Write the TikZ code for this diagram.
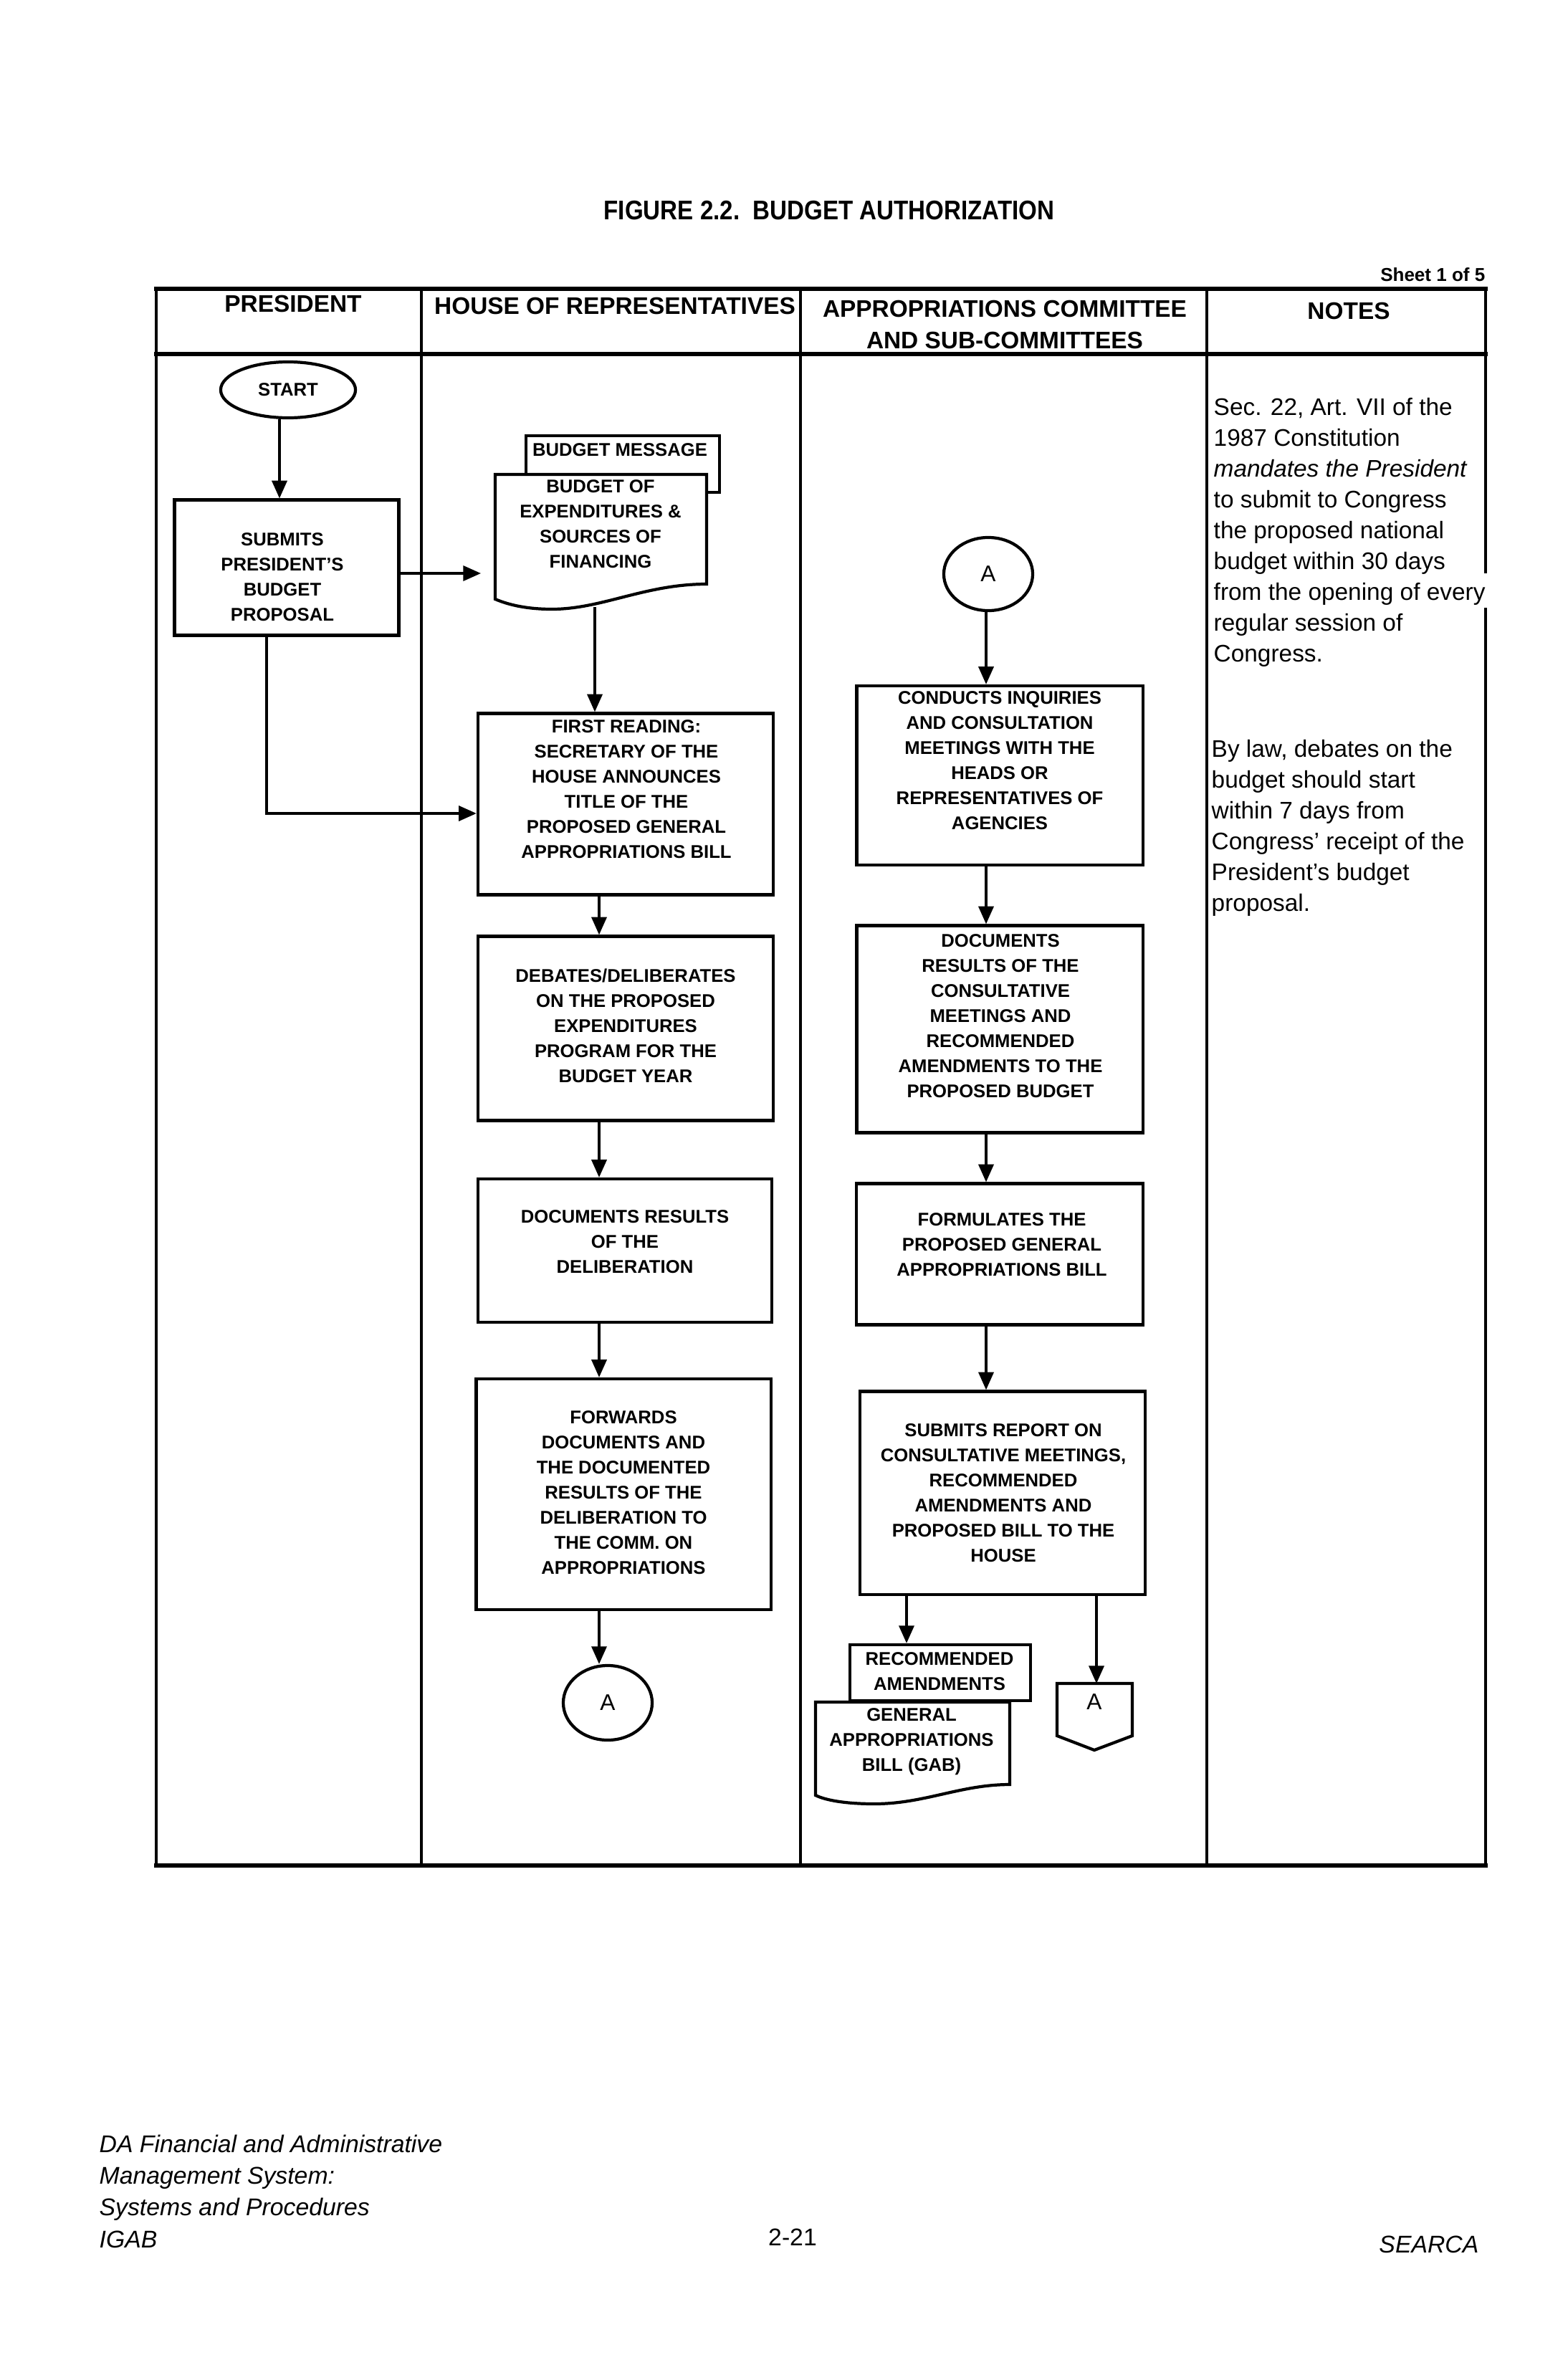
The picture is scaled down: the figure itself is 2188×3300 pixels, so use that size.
\documentclass[tikz,border=0pt]{standalone}
\usepackage{fontspec}
\setmainfont{Liberation Sans}
\newfontfamily\narrowfont[FakeStretch=0.88]{Liberation Sans}
\usetikzlibrary{arrows.meta,shapes.geometric}
\newcommand\bxf{\fontsize{7.3}{9.96}\selectfont\bfseries}
\newcommand\hdf{\fontsize{9.5}{12.5}\selectfont\bfseries}
\newcommand\ntf{\fontsize{9.5}{12.2}\selectfont}
\newcommand\ftf{\fontsize{9.6}{12.6}\selectfont\itshape}
\begin{document}
\begin{tikzpicture}[x=0.01cm,y=-0.01cm,
  box/.style={draw, line width=1.2pt, fill=white, inner sep=0pt},
  btxt/.style={align=center, inner sep=0pt, font=\bxf},
  hdr/.style={align=center, inner sep=0pt, font=\hdf},
  conn/.style={draw, ellipse, line width=1.2pt, fill=white, inner sep=0pt},
  arr/.style={line width=0.9pt, -{Triangle[length=7pt,width=6pt]}},
  frame/.style={line width=1.7pt, line cap=rect},
  side/.style={line width=1.4pt},
  divider/.style={line width=0.9pt},
  doc/.style={line width=1.2pt, fill=white, line join=miter}
  ]
\fill[white] (0,0) rectangle (2188,3300);
\useasboundingbox (0,0) rectangle (2188,3300);

% title
\node[inner sep=0pt, font={\narrowfont\fontsize{10.7}{12}\selectfont\bfseries}] (title) at (1157,294) {FIGURE 2.2.\ \ BUDGET AUTHORIZATION};
\node[anchor=east, inner sep=0pt, font={\fontsize{7.4}{9}\selectfont\bfseries}] (sheet) at (2073,383) {Sheet 1 of 5};

% table frame
\draw[frame] (218,403) -- (2073,403);
\draw[frame] (218,494) -- (2073,494);
\draw[frame] (218,2603) -- (2073,2603);
\draw[side] (218,403) -- (218,2603);
\draw[side] (2073,403) -- (2073,800);
\draw[side] (2073,848) -- (2073,2603);
\draw[divider] (588,403) -- (588,2603);
\draw[divider] (1117,403) -- (1117,2603);
\draw[divider] (1684,403) -- (1684,2603);

% headers
\node[hdr] (h1) at (409,424) {PRESIDENT};
\node[hdr] (h2) at (858,427) {HOUSE OF REPRESENTATIVES};
\node[hdr] (h3) at (1402,453) {APPROPRIATIONS COMMITTEE\\AND SUB-COMMITTEES};
\node[hdr] (h4) at (1882,434) {NOTES};

% notes
\node[anchor=north west, align=left, inner sep=0pt, font=\ntf] (n1) at (1693,555)
  {Sec. 22, Art. VII of the\\1987 Constitution\\\textit{mandates the President}\\to submit to Congress\\the proposed national\\budget within 30 days\\from the opening of every\\regular session of\\Congress.};
\node[anchor=north west, align=left, inner sep=0pt, font=\ntf] (n2) at (1690,1032)
  {By law, debates on the\\budget should start\\within 7 days from\\Congress' receipt of the\\President's budget\\proposal.};

% President column
\node[conn, minimum width=1.88cm, minimum height=0.78cm, font=\bxf] (start) at (402,544) {START};
\node[box, minimum width=3.13cm, minimum height=1.89cm] (b1) at (400,792) {};
\node[btxt] (b1t) at (394,805) {SUBMITS\\PRESIDENT'S\\BUDGET\\PROPOSAL};

% House column: document stack
\node[box, minimum width=2.70cm, minimum height=0.79cm] (bm) at (869,647.5) {};
\node[btxt] (bmt) at (865,628) {BUDGET MESSAGE};
\draw[doc] (691,662) -- (986,662) -- (986,815)
  .. controls (900,815) and (840,850) .. (770,850)
  .. controls (730,850) and (705,842) .. (691,836) -- cycle;
\node[btxt] (bdt) at (838,731) {BUDGET OF\\EXPENDITURES \&\\SOURCES OF\\FINANCING};
\coordinate (dW) at (691,800);
\coordinate (dB) at (830,847);

\node[box, minimum width=4.12cm, minimum height=2.53cm] (b2) at (873,1122) {};
\node[btxt] (b2t) at (874,1101) {FIRST READING:\\SECRETARY OF THE\\HOUSE ANNOUNCES\\TITLE OF THE\\PROPOSED GENERAL\\APPROPRIATIONS BILL};
\node[box, minimum width=4.12cm, minimum height=2.57cm] (b3) at (873,1435) {};
\node[btxt] (b3t) at (873,1431) {DEBATES/DELIBERATES\\ON THE PROPOSED\\EXPENDITURES\\PROGRAM FOR THE\\BUDGET YEAR};
\node[box, minimum width=4.10cm, minimum height=2.00cm] (b4) at (872,1745) {};
\node[btxt] (b4t) at (872,1733) {DOCUMENTS RESULTS\\OF THE\\DELIBERATION};
\node[box, minimum width=4.11cm, minimum height=3.22cm] (b5) at (870,2085) {};
\node[btxt] (b5t) at (870,2083) {FORWARDS\\DOCUMENTS AND\\THE DOCUMENTED\\RESULTS OF THE\\DELIBERATION TO\\THE COMM. ON\\APPROPRIATIONS};
\node[conn, minimum width=1.24cm, minimum height=1.04cm, font=\fontsize{9}{10}\selectfont] (aB) at (848,2376) {A};

% Appropriations column
\node[conn, minimum width=1.24cm, minimum height=1.02cm, font=\fontsize{9}{10}\selectfont] (aT) at (1379,801) {A};
\node[box, minimum width=3.99cm, minimum height=2.50cm] (b6) at (1395,1082) {};
\node[btxt] (b6t) at (1395,1061) {CONDUCTS INQUIRIES\\AND CONSULTATION\\MEETINGS WITH THE\\HEADS OR\\REPRESENTATIVES OF\\AGENCIES};
\node[box, minimum width=3.99cm, minimum height=2.89cm] (b7) at (1395,1436) {};
\node[btxt] (b7t) at (1396,1418) {DOCUMENTS\\RESULTS OF THE\\CONSULTATIVE\\MEETINGS AND\\RECOMMENDED\\AMENDMENTS TO THE\\PROPOSED BUDGET};
\node[box, minimum width=4.00cm, minimum height=1.97cm] (b8) at (1395,1750) {};
\node[btxt] (b8t) at (1398,1737) {FORMULATES THE\\PROPOSED GENERAL\\APPROPRIATIONS BILL};
\node[box, minimum width=3.98cm, minimum height=2.83cm] (b9) at (1399,2083) {};
\node[btxt] (b9t) at (1400,2083) {SUBMITS REPORT ON\\CONSULTATIVE MEETINGS,\\RECOMMENDED\\AMENDMENTS AND\\PROPOSED BILL TO THE\\HOUSE};

\node[box, minimum width=2.52cm, minimum height=0.78cm] (b10) at (1312,2334) {};
\node[btxt] (b10t) at (1311,2332) {RECOMMENDED\\AMENDMENTS};
\draw[doc] (1138,2375) -- (1409,2375) -- (1409,2490)
  .. controls (1340,2490) and (1290,2517) .. (1220,2517)
  .. controls (1180,2517) and (1152,2512) .. (1138,2505) -- cycle;
\node[btxt] (gabt) at (1272,2430) {GENERAL\\APPROPRIATIONS\\BILL (GAB)};

\draw[doc] (1475,2349) -- (1580,2349) -- (1580,2422) -- (1527,2442) -- (1475,2422) -- cycle;
\node[inner sep=0pt, font=\fontsize{9}{10}\selectfont] (opA) at (1527,2375) {A};
\coordinate (op) at (1530,2349);

% connectors
\coordinate (xs) at (390,0);
\coordinate (k1) at (372,1135);
\coordinate (xh) at (836,0);
\coordinate (xa) at (1376,0);
\coordinate (xl) at (1265,0);
\draw[arr] (start.south -| xs) -- (b1.north -| xs);
\draw[arr, shorten >=0.2cm] (b1.east |- dW) -- (dW);
\draw[arr] (dB) -- (b2.north -| dB);
\draw[arr] (b1.south -| k1) -- (k1) -- (b2.west |- k1);
\draw[arr] (b2.south -| xh) -- (b3.north -| xh);
\draw[arr] (b3.south -| xh) -- (b4.north -| xh);
\draw[arr] (b4.south -| xh) -- (b5.north -| xh);
\draw[arr] (b5.south -| xh) -- (aB.north -| xh);
\draw[arr] (aT.south -| xa) -- (b6.north -| xa);
\draw[arr] (b6.south -| xa) -- (b7.north -| xa);
\draw[arr] (b7.south -| xa) -- (b8.north -| xa);
\draw[arr] (b8.south -| xa) -- (b9.north -| xa);
\draw[arr] (b9.south -| xl) -- (b10.north -| xl);
\draw[arr] (b9.south -| op) -- (op);

% footer
\node[anchor=north west, align=left, inner sep=0pt, font=\ftf] (foot) at (138,2978)
  {DA Financial and Administrative\\Management System:\\Systems and Procedures\\IGAB};
\node[inner sep=0pt, font={\fontsize{9.6}{12}\selectfont}] (pg) at (1106,3122) {2-21};
\node[anchor=east, inner sep=0pt, font=\ftf] (searca) at (2064,3132) {SEARCA};
\end{tikzpicture}
\end{document}
